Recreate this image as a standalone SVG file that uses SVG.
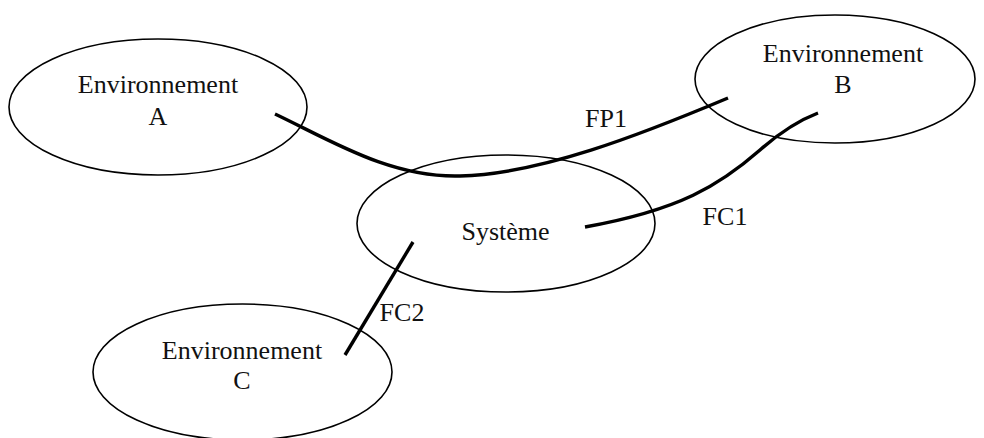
<svg xmlns="http://www.w3.org/2000/svg" width="984" height="438" viewBox="0 0 984 438">
  <style>
    .node ellipse { fill: none; stroke: #000; stroke-width: 1.6; }
    .label { font-family: "Liberation Serif", "Times New Roman", serif; font-size: 26px; fill: #111; text-anchor: middle; }
    .flow { fill: none; stroke: #000; stroke-width: 3.4; stroke-linecap: butt; }
  </style>
  <rect width="984" height="438" fill="#fff"/>

  <g id="env-a" class="node">
    <ellipse cx="158" cy="107" rx="149" ry="68"/>
    <text class="label" x="158" y="93">Environnement</text>
    <text class="label" x="158" y="125">A</text>
  </g>

  <g id="env-b" class="node">
    <ellipse cx="835" cy="79" rx="140" ry="64"/>
    <text class="label" x="843" y="62">Environnement</text>
    <text class="label" x="843" y="93">B</text>
  </g>

  <g id="systeme" class="node">
    <ellipse cx="506" cy="223.5" rx="149" ry="68.5"/>
    <text class="label" x="505.5" y="240">Système</text>
  </g>

  <g id="env-c" class="node">
    <ellipse cx="242.5" cy="372" rx="149.5" ry="68"/>
    <text class="label" x="242" y="359">Environnement</text>
    <text class="label" x="242" y="389">C</text>
  </g>

  <g id="connectors">
    <path class="flow" d="M275,114 C330,140 390,178 460,176 C540,174 640,135 728,98"/>
    <path class="flow" d="M585,227 C680,210 720,185 760,150 C785,128 805,118 818,113"/>
    <path class="flow" d="M413,242 L345,355"/>
    <text class="label" x="606" y="127">FP1</text>
    <text class="label" x="725" y="225">FC1</text>
    <text class="label" x="402" y="321">FC2</text>
  </g>
</svg>
